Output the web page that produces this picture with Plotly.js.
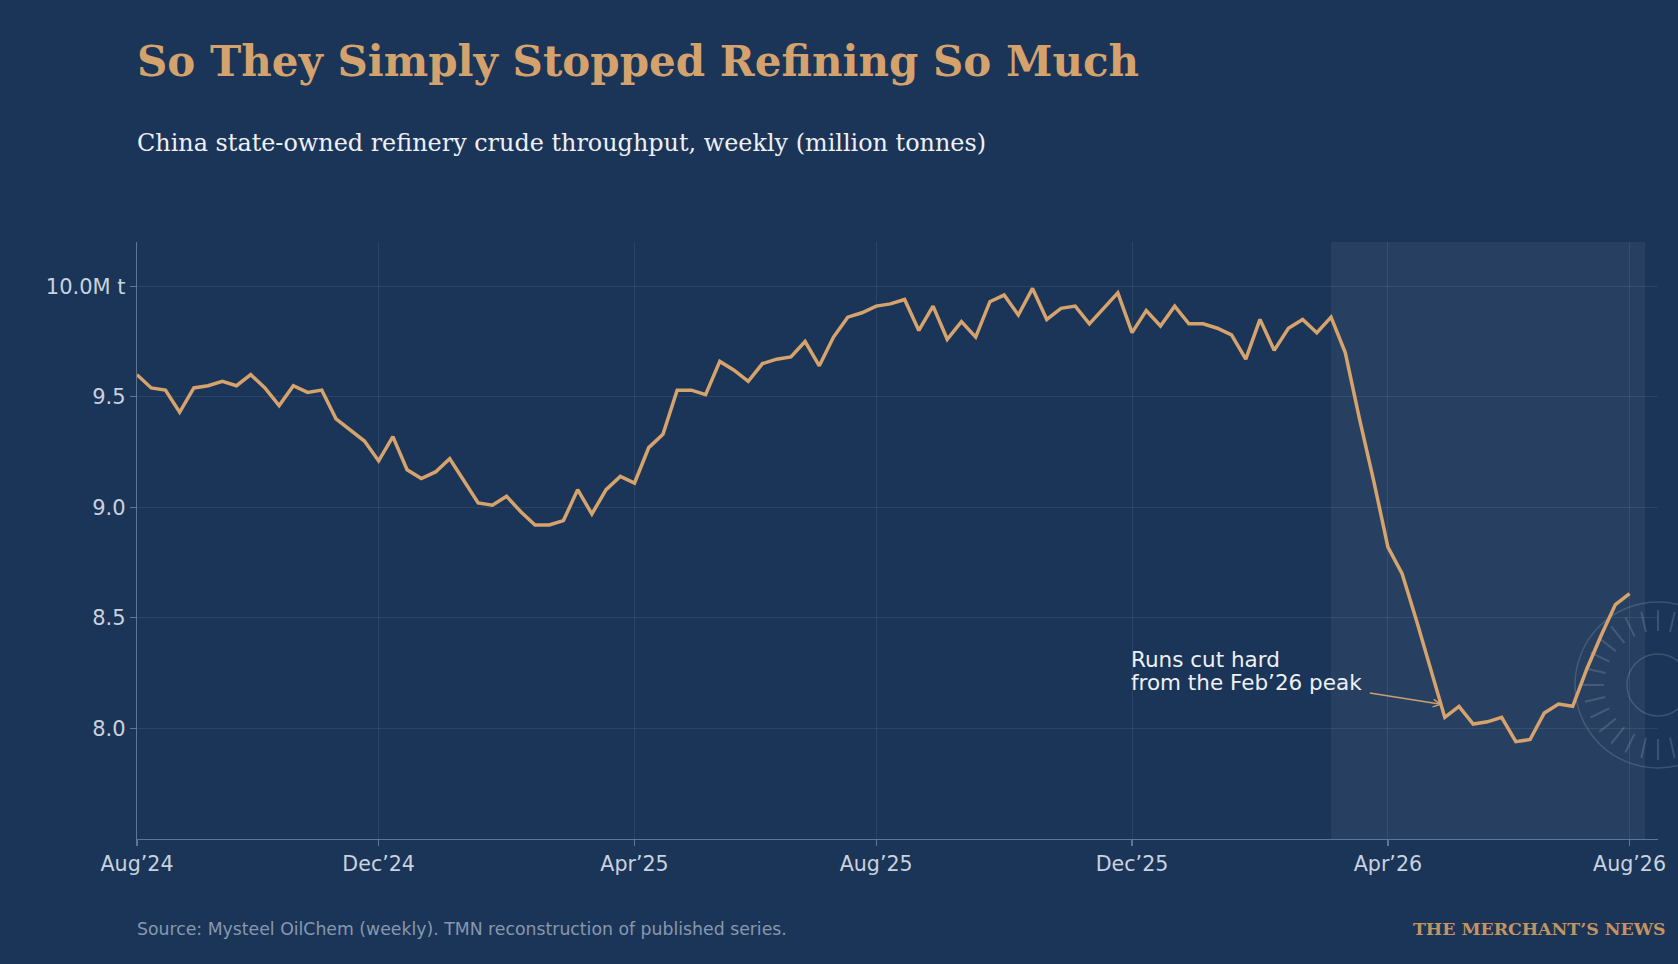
<!DOCTYPE html>
<html>
<head>
<meta charset="utf-8">
<script src="https://cdn.plot.ly/plotly-3.0.1.min.js"></script>
<style>
  html, body { margin: 0; padding: 0; background: #1b3558; }
  #chart { width: 1678px; height: 964px; }
</style>
</head>
<body>
<div id="chart"></div>
<script>
// Weekly throughput, million tonnes (week 0 = first week of Aug 2024)
const throughput = [
  9.60, 9.54, 9.53, 9.43, 9.54, 9.55, 9.57, 9.55, 9.60, 9.54,
  9.46, 9.55, 9.52, 9.53, 9.40, 9.35, 9.30, 9.21, 9.32, 9.17,
  9.13, 9.16, 9.22, 9.12, 9.02, 9.01, 9.05, 8.98, 8.92, 8.92,
  8.94, 9.08, 8.97, 9.08, 9.14, 9.11, 9.27, 9.33, 9.53, 9.53,
  9.51, 9.66, 9.62, 9.57, 9.65, 9.67, 9.68, 9.75, 9.64, 9.77,
  9.86, 9.88, 9.91, 9.92, 9.94, 9.80, 9.91, 9.76, 9.84, 9.77,
  9.93, 9.96, 9.87, 9.99, 9.85, 9.90, 9.91, 9.83, 9.90, 9.97,
  9.79, 9.89, 9.82, 9.91, 9.83, 9.83, 9.81, 9.78, 9.67, 9.85,
  9.71, 9.81, 9.85, 9.79, 9.86, 9.70, 9.40, 9.12, 8.82, 8.70,
  8.49, 8.27, 8.05, 8.10, 8.02, 8.03, 8.05, 7.94, 7.95, 8.07,
  8.11, 8.10, 8.27, 8.42, 8.56, 8.61
];
const weekIndex = throughput.map((_, i) => i);

// x tick positions (week index) and labels
const xTickWeeks = [0, 17, 35, 52, 70, 88, 105];
const xTickLabels = ['Aug\u201924', 'Dec\u201924', 'Apr\u201925', 'Aug\u201925', 'Dec\u201925', 'Apr\u201926', 'Aug\u201926'];

// y ticks
const yTickVals = [8.0, 8.5, 9.0, 9.5, 10.0];
const yTickLabels = ['8.0', '8.5', '9.0', '9.5', '10.0M t'];

// highlighted period (week index), from the Feb'26 peak
const cutStartWeek = 84;
const cutEndWeek = 106.1;

// annotation text lines and anchors (week, value)
const noteLines = ['Runs cut hard', 'from the Feb\u201926 peak'];
const noteLineY = [8.311, 8.208];
const noteTextWeek = 70;
const noteArrowTail = [86.62, 8.161];
const noteArrowHead = [91.83, 8.108];

const BG = '#1b3558';
const TAN = '#d6a36c';
const AXIS = '#5f7594';
const GRID = 'rgba(255,255,255,0.075)';
const TICKTXT = '#c9d2de';

const trace = {
  x: weekIndex,
  y: throughput,
  type: 'scatter',
  mode: 'lines',
  line: { color: TAN, width: 3.5 },
  hoverinfo: 'skip'
};

// watermark compass logo (decoration, pixel-sized around a paper anchor)
const logoX = 1.0, logoY = 0.258;
const logoColor = 'rgba(190,200,215,0.20)';
const shapes = [
  {
    type: 'rect', xref: 'x', yref: 'paper',
    x0: cutStartWeek, x1: cutEndWeek, y0: 0, y1: 1,
    fillcolor: 'rgba(255,255,255,0.055)', line: { width: 0 }, layer: 'below'
  },
  {
    type: 'circle', xref: 'paper', yref: 'paper',
    xsizemode: 'pixel', ysizemode: 'pixel', xanchor: logoX, yanchor: logoY,
    x0: -83, x1: 83, y0: -83, y1: 83,
    line: { color: logoColor, width: 1.5 }, layer: 'below'
  },
  {
    type: 'circle', xref: 'paper', yref: 'paper',
    xsizemode: 'pixel', ysizemode: 'pixel', xanchor: logoX, yanchor: logoY,
    x0: -31, x1: 31, y0: -31, y1: 31,
    line: { color: logoColor, width: 1.5 }, layer: 'below'
  }
];
const nDash = 28;
for (let k = 0; k < nDash; k++) {
  const a = (2 * Math.PI * k) / nDash;
  const c = Math.cos(a), s = Math.sin(a);
  shapes.push({
    type: 'line', xref: 'paper', yref: 'paper',
    xsizemode: 'pixel', ysizemode: 'pixel', xanchor: logoX, yanchor: logoY,
    x0: 54 * c, x1: 75 * c, y0: 54 * s, y1: 75 * s,
    line: { color: logoColor, width: 2 }, layer: 'below'
  });
}

const annotations = [
  {
    text: 'So They Simply Stopped Refining So Much',
    xref: 'paper', yref: 'paper', x: 0, y: 1.303, xshift: -2,
    xanchor: 'left', yanchor: 'middle', showarrow: false,
    font: { family: 'DejaVu Serif', size: 42, weight: 'bold', color: '#d4a26c' }
  },
  {
    text: 'China state-owned refinery crude throughput, weekly (million tonnes)',
    xref: 'paper', yref: 'paper', x: 0, y: 1.1655, xshift: -2,
    xanchor: 'left', yanchor: 'middle', showarrow: false,
    font: { family: 'DejaVu Serif', size: 23.9, color: '#eef0f4' }
  },
  {
    text: 'Source: Mysteel OilChem (weekly). TMN reconstruction of published series.',
    xref: 'paper', yref: 'paper', x: 0, y: -0.151, xshift: -2,
    xanchor: 'left', yanchor: 'middle', showarrow: false,
    font: { family: 'DejaVu Sans', size: 17.3, color: '#8798ae' }
  },
  {
    text: 'THE MERCHANT\u2019S NEWS',
    xref: 'paper', yref: 'paper', x: 1.0053, y: -0.151, xshift: 2,
    xanchor: 'right', yanchor: 'middle', showarrow: false,
    font: { family: 'DejaVu Serif', size: 17.3, weight: 'bold', color: '#c49460' }
  },
  {
    text: '',
    xref: 'x', yref: 'y', x: noteArrowHead[0], y: noteArrowHead[1],
    axref: 'x', ayref: 'y', ax: noteArrowTail[0], ay: noteArrowTail[1],
    showarrow: true, arrowhead: 5, arrowsize: 1, arrowwidth: 1.5,
    arrowcolor: '#c9a070', standoff: 0, startstandoff: 0
  }
];
noteLines.forEach((line, i) => {
  annotations.push({
    text: line,
    xref: 'x', yref: 'y', x: noteTextWeek, y: noteLineY[i], xshift: -3,
    xanchor: 'left', yanchor: 'middle', align: 'left', showarrow: false,
    font: { family: 'DejaVu Sans', size: 21.5, color: '#eef0f4' }
  });
});

const layout = {
  width: 1678,
  height: 964,
  paper_bgcolor: BG,
  plot_bgcolor: 'rgba(0,0,0,0)',
  margin: { l: 137, r: 20, t: 242, b: 125 },
  showlegend: false,
  xaxis: {
    type: 'linear',
    range: [0, 107],
    tickvals: xTickWeeks,
    ticktext: xTickLabels,
    showgrid: true, gridcolor: GRID, gridwidth: 1,
    zeroline: false,
    showline: true, linecolor: AXIS, linewidth: 1.2,
    ticks: 'outside', ticklen: 6, tickcolor: AXIS, tickwidth: 1.2,
    tickfont: { family: 'DejaVu Sans', size: 20.6, color: TICKTXT },
    fixedrange: true
  },
  yaxis: {
    range: [7.5, 10.2],
    tickvals: yTickVals,
    ticktext: yTickLabels,
    showgrid: true, gridcolor: GRID, gridwidth: 1,
    zeroline: false,
    showline: true, linecolor: AXIS, linewidth: 1.2,
    ticks: 'outside', ticklen: 6, tickcolor: AXIS, tickwidth: 1.2,
    tickfont: { family: 'DejaVu Sans', size: 21, color: TICKTXT },
    fixedrange: true
  },
  shapes: shapes,
  annotations: annotations
};

Plotly.newPlot('chart', [trace], layout, { displayModeBar: false, staticPlot: true });
</script>
</body>
</html>
